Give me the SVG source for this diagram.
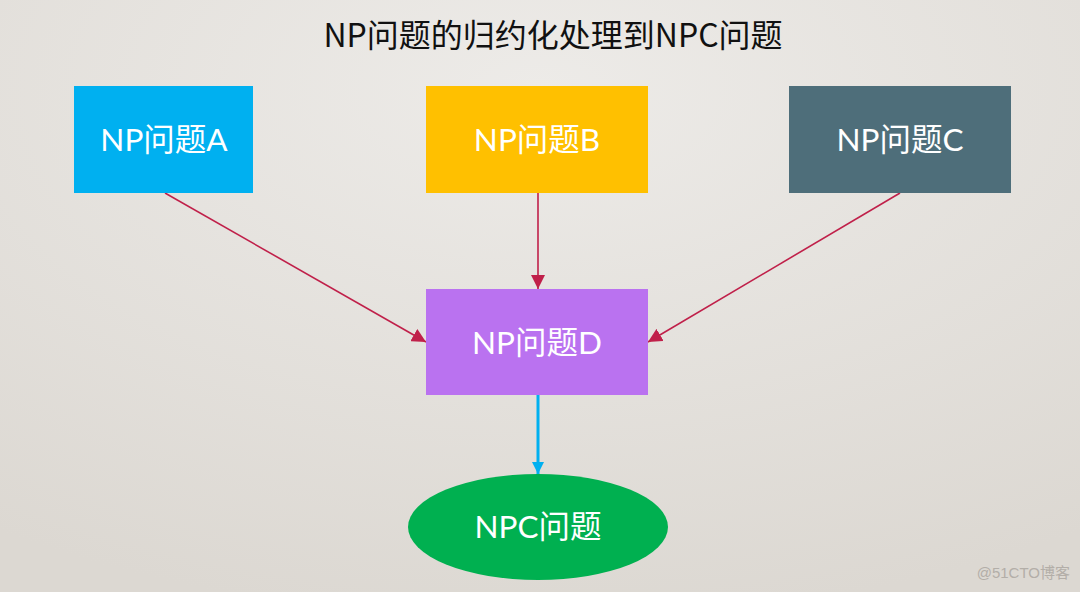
<svg xmlns="http://www.w3.org/2000/svg" width="1080" height="592" viewBox="0 0 1080 592">
<defs>
<radialGradient id="bg" cx="0.5" cy="0.15" r="0.9">
<stop offset="0" stop-color="#EDEBE8"/>
<stop offset="1" stop-color="#DCD8D2"/>
</radialGradient>
<marker id="ab" viewBox="0 0 10 10" refX="10" refY="5" markerWidth="12" markerHeight="12" markerUnits="userSpaceOnUse" orient="auto">
<path d="M0,0 L10,5 L0,10 z" fill="#00B0F0"/>
</marker>
<marker id="ac" viewBox="0 0 10 10" refX="10" refY="5" markerWidth="14" markerHeight="14" markerUnits="userSpaceOnUse" orient="auto">
<path d="M0,0 L10,5 L0,10 z" fill="#C0204A"/>
</marker>
</defs>
<style>
.lbl{font-family:"Lato","Noto Sans CJK SC",sans-serif;font-size:31.5px;fill:#FFFFFF;text-anchor:middle}
.title{font-family:"Noto Sans CJK SC",sans-serif;font-size:32px;fill:#111111;text-anchor:middle}
.red{stroke:#C0204A;stroke-width:1.6;fill:none;marker-end:url(#ac)}
.blue{stroke:#00B0F0;stroke-width:3;fill:none;marker-end:url(#ab)}
</style>
<rect x="0" y="0" width="1080" height="592" fill="url(#bg)"/>
<text class="title" x="553" y="47">NP问题的归约化处理到NPC问题</text>
<g id="connectors">
<line class="red" x1="165" y1="193" x2="426" y2="342"/>
<line class="red" x1="538" y1="193" x2="538" y2="289"/>
<line class="red" x1="900" y1="193" x2="648" y2="342"/>
<line class="blue" x1="538" y1="395" x2="538" y2="474"/>
</g>
<g id="nodeA">
<rect x="74" y="86" width="179" height="107" fill="#00B0F0"/>
<text class="lbl" x="164" y="151">NP问题A</text>
</g>
<g id="nodeB">
<rect x="426" y="86" width="222" height="107" fill="#FFC000"/>
<text class="lbl" x="537" y="151">NP问题B</text>
</g>
<g id="nodeC">
<rect x="789" y="86" width="222" height="107" fill="#4E6E7A"/>
<text class="lbl" x="900" y="151">NP问题C</text>
</g>
<g id="nodeD">
<rect x="426" y="289" width="222" height="106" fill="#BA72F0"/>
<text class="lbl" x="537" y="354">NP问题D</text>
</g>
<g id="nodeNPC">
<ellipse cx="538" cy="527" rx="130" ry="53" fill="#00B050"/>
<text class="lbl" x="538" y="538">NPC问题</text>
</g>
<text x="1070" y="578" font-family="'Liberation Sans','Noto Sans CJK SC',sans-serif" font-size="15" fill="#B3AEA8" text-anchor="end">@51CTO博客</text>
</svg>
